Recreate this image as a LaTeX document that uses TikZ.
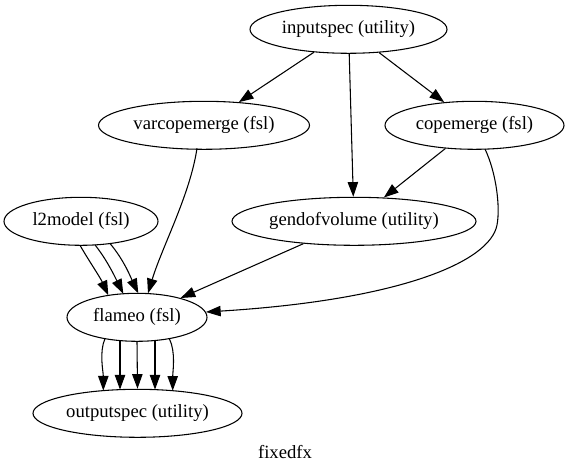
\documentclass[tikz,border=0pt]{standalone}
\usepackage{fontspec}
\setmainfont{Liberation Serif}
\usetikzlibrary{shapes.geometric,arrows.meta,calc}
\begin{document}
\begin{tikzpicture}[x=0.75pt,y=-0.75pt,
  gnode/.style={draw,ellipse,line width=0.8pt,inner sep=0pt,minimum height=36pt,font=\fontsize{14pt}{16pt}\selectfont},
  edge/.style={draw,line width=0.8pt,-{Triangle[length=11pt,width=7.8pt]}},
  glabel/.style={font=\fontsize{14pt}{16pt}\selectfont}]
\useasboundingbox (0,0) rectangle (570,473);
\node[gnode,minimum width=147.75pt] (inputspec) at (348.5,29.3) {inputspec (utility)};
\node[gnode,minimum width=158.25pt] (varcopemerge) at (204,125.3) {varcopemerge (fsl)};
\node[gnode,minimum width=134.25pt] (copemerge) at (474.5,125.3) {copemerge (fsl)};
\node[gnode,minimum width=115.5pt] (l2model) at (81,221.3) {l2model (fsl)};
\node[gnode,minimum width=183pt] (gendofvolume) at (354,221.3) {gendofvolume (utility)};
\node[gnode,minimum width=105pt] (flameo) at (137,317.3) {flameo (fsl)};
\node[gnode,minimum width=156.75pt] (outputspec) at (137.5,413.3) {outputspec (utility)};
\node[glabel] (graphlabel) at (285,452) {fixedfx};

\draw[edge] (inputspec) -- (varcopemerge);
\draw[edge] (inputspec) -- (copemerge);
\draw[edge] (inputspec) -- (gendofvolume);
\draw[edge] (copemerge) -- (gendofvolume);
\draw[edge] (gendofvolume) -- (flameo);

\draw[edge] ($(varcopemerge.center)+(-7,23)$) .. controls (190,195) and (162,247) .. ($(flameo.center)+(11,-24)$);

\draw[edge] ($(copemerge.center)+(10.5,23.8)$) .. controls (496,172) and (500.5,206.5) .. (497,225)
  .. controls (490,262) and (400,300) .. ($(flameo.center)+(69,-5.3)$);

\draw[edge] ($(l2model.center)+(-1,24)$) .. controls (89,261) and (100,277) .. ($(flameo.center)+(-28.7,-22)$);
\draw[edge] ($(l2model.center)+(14,23.6)$) .. controls (107,260) and (115,277) .. ($(flameo.center)+(-13.7,-23.5)$);
\draw[edge] ($(l2model.center)+(29,22.2)$) .. controls (124,260) and (131,278) .. ($(flameo.center)+(1.3,-24)$);

\draw[edge] ($(flameo.center)+(-32,21.3)$) .. controls (99,352) and (103.3,372) .. ($(outputspec.center)+(-34.2,-22.7)$);
\draw[edge] ($(flameo.center)+(-17,23.3)$) -- ($(outputspec.center)+(-17.5,-23.7)$);
\draw[edge] (flameo.south) -- (outputspec.north);
\draw[edge] ($(flameo.center)+(18,23.2)$) -- ($(outputspec.center)+(17.5,-23.7)$);
\draw[edge] ($(flameo.center)+(32.3,21.3)$) .. controls (176,352) and (172.7,372) .. ($(outputspec.center)+(35.2,-22.6)$);
\end{tikzpicture}
\end{document}
